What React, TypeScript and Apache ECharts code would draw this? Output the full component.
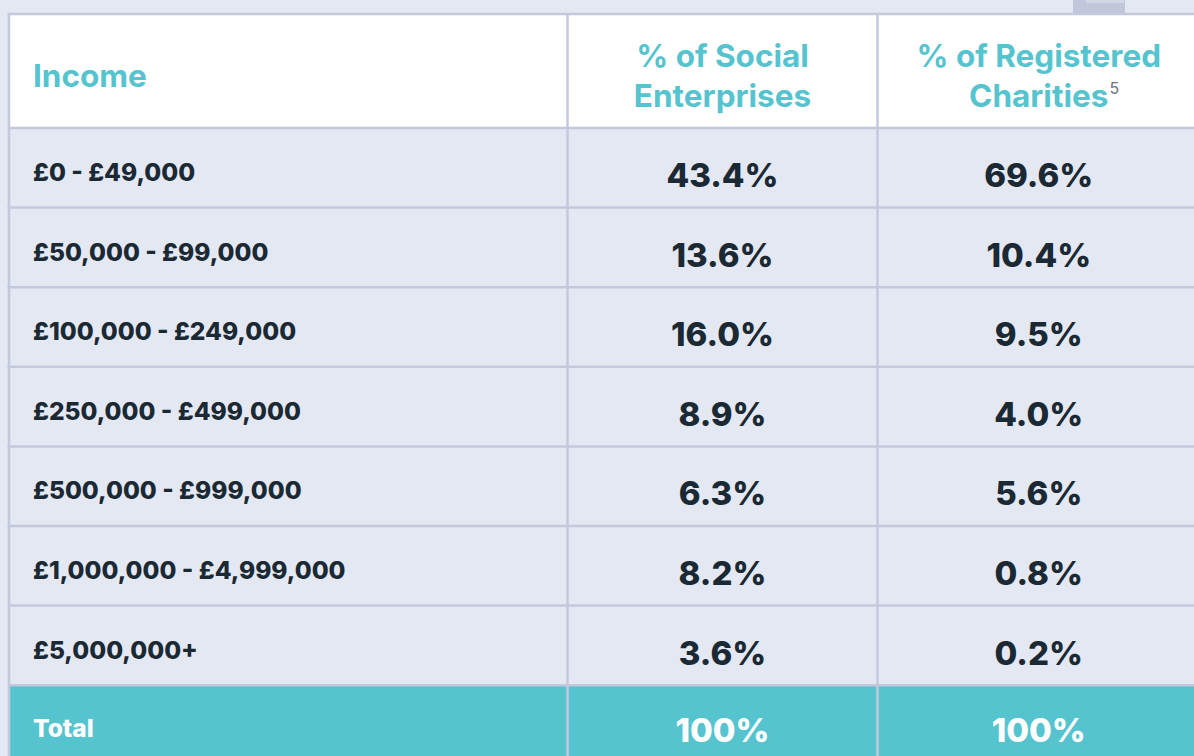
import React, { useEffect, useRef } from "react";
import * as echarts from "echarts";

const headers = ["Income", "% of Social\nEnterprises", "% of Registered\nCharities"];
const headerSup = "5";
const incomeBands = [
  "£0 - £49,000",
  "£50,000 - £99,000",
  "£100,000 - £249,000",
  "£250,000 - £499,000",
  "£500,000 - £999,000",
  "£1,000,000 - £4,999,000",
  "£5,000,000+",
];
const socialEnterprises = [43.4, 13.6, 16.0, 8.9, 6.3, 8.2, 3.6];
const registeredCharities = [69.6, 10.4, 9.5, 4.0, 5.6, 0.8, 0.2];
const totalLabel = "Total";
const totals = ["100%", "100%"];

const TEAL = "#55c4cf";
const DARK = "#1a2933";
const GRID = "#c4c8dc";
const BG = "#e4e8f2";
const FONT = "Inter, Lato, sans-serif";

export default function App() {
  const ref = useRef<HTMLDivElement>(null);
  useEffect(() => {
    if (!ref.current) return;
    const chart = echarts.init(ref.current, null, { renderer: "svg" });

    const left = 9;
    const top = 14;
    const right = 1204;
    const colX = [left, 567.5, 877.5, right];
    const headerBottom = 128;
    const rowH = 79.6;
    const nRows = incomeBands.length;
    const totalTop = headerBottom + nRows * rowH;
    const bottom = 770;

    const els: any[] = [];
    els.push({ type: "rect", shape: { x: 0, y: 0, width: 1194, height: 756 }, style: { fill: BG }, silent: true });
    els.push({ type: "rect", shape: { x: 1073, y: 0, width: 52, height: 13 }, style: { fill: "#c2c6da" } });
    els.push({ type: "rect", shape: { x: 1086, y: 0, width: 38, height: 3 }, style: { fill: "#d3d7e6" } });
    els.push({ type: "rect", shape: { x: left, y: top, width: right - left, height: headerBottom - top }, style: { fill: "#ffffff" } });
    els.push({ type: "rect", shape: { x: left, y: totalTop, width: right - left, height: bottom - totalTop }, style: { fill: TEAL } });

    const hLines = [top, headerBottom];
    for (let i = 1; i <= nRows; i++) hLines.push(headerBottom + i * rowH);
    hLines.forEach((y) => {
      els.push({ type: "line", shape: { x1: left - 1.5, y1: y, x2: right, y2: y }, style: { stroke: GRID, lineWidth: 2.5 } });
    });
    colX.slice(0, 3).forEach((x) => {
      els.push({ type: "line", shape: { x1: x, y1: top, x2: x, y2: bottom }, style: { stroke: GRID, lineWidth: 2.5 } });
    });

    const HFONT = `bold 31.5px ${FONT}`;
    const LFONT = `800 24.5px ${FONT}`;
    const VFONT = `800 33px ${FONT}`;

    els.push({
      type: "text",
      style: { text: headers[0], x: 33, y: 75, fill: TEAL, font: HFONT, align: "left", verticalAlign: "middle" },
    });
    const c2 = (colX[1] + colX[2]) / 2;
    const c3 = (colX[2] + colX[3]) / 2 - 2;
    const h2 = headers[1].split("\n");
    const h3 = headers[2].split("\n");
    [c2, c3].forEach((cx, ci) => {
      const lines = ci === 0 ? h2 : h3;
      lines.forEach((t, li) => {
        els.push({
          type: "text",
          style: { text: t, x: cx, y: 55 + li * 40, fill: TEAL, font: HFONT, align: "center", verticalAlign: "middle" },
        });
      });
    });
    let w = 150;
    try {
      const ctx = document.createElement("canvas").getContext("2d");
      if (ctx) {
        ctx.font = HFONT;
        w = ctx.measureText(h3[1]).width;
      }
    } catch (e) {}
    els.push({
      type: "text",
      style: { text: headerSup, x: c3 + w / 2 + 1, y: 88, fill: "#6b7380", font: `16px ${FONT}`, align: "left", verticalAlign: "middle" },
    });

    incomeBands.forEach((lab, i) => {
      const rt = headerBottom + i * rowH;
      els.push({
        type: "text",
        style: { text: lab, x: 33, y: rt + 44, fill: DARK, font: LFONT, align: "left", verticalAlign: "middle" },
      });
      els.push({
        type: "text",
        style: { text: socialEnterprises[i].toFixed(1) + "%", x: c2, y: rt + 47, fill: DARK, font: VFONT, align: "center", verticalAlign: "middle" },
      });
      els.push({
        type: "text",
        style: { text: registeredCharities[i].toFixed(1) + "%", x: c3, y: rt + 47, fill: DARK, font: VFONT, align: "center", verticalAlign: "middle" },
      });
    });
    els.push({
      type: "text",
      style: { text: totalLabel, x: 33, y: totalTop + 43, fill: "#ffffff", font: LFONT, align: "left", verticalAlign: "middle" },
    });
    els.push({
      type: "text",
      style: { text: totals[0], x: c2, y: totalTop + 45, fill: "#ffffff", font: VFONT, align: "center", verticalAlign: "middle" },
    });
    els.push({
      type: "text",
      style: { text: totals[1], x: c3, y: totalTop + 45, fill: "#ffffff", font: VFONT, align: "center", verticalAlign: "middle" },
    });

    chart.setOption({ animation: false, backgroundColor: BG, graphic: { elements: els } });
    return () => chart.dispose();
  }, []);
  return <div ref={ref} style={{ position: "fixed", left: 0, top: 0, width: 1194, height: 756 }} />;
}
